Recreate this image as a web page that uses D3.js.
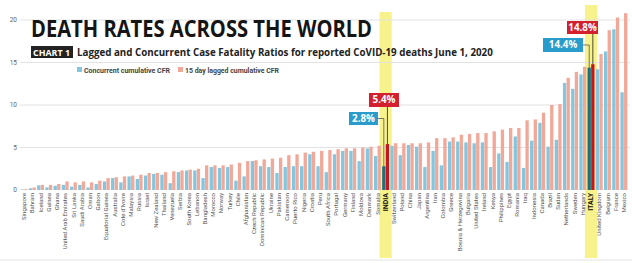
<!DOCTYPE html>
<html>
<head>
<meta charset="utf-8">
<script src="https://cdn.jsdelivr.net/npm/d3@7"></script>
<style>
  body { margin: 0; background: #fff; }
  svg { display: block; }
</style>
</head>
<body>
<div id="chart-container"></div>
<script>
// Countries, sorted by lagged CFR
const countries = [
  'Singapore', 'Bahrain', 'Iceland', 'Guinea', 'Ghana', 'United Arab Emirates', 'Sri Lanka',
  'Saudi Arabia', 'Oman', 'Gabon', 'Equatorial Guinea', 'Australia', "Cote d'Ivoire", 'Malaysia',
  'Russia', 'Israel', 'New Zealand', 'Thailand', 'Venezuela', 'Serbia', 'South Korea', 'Lebanon',
  'Bangladesh', 'Morocco', 'Norway', 'Turkey', 'Chile', 'Afghanistan', 'Czech Republic',
  'Dominican Republic', 'Ukraine', 'Pakistan', 'Cameroon', 'Puerto Rico', 'Nigeria', 'Croatia',
  'Peru', 'South Africa', 'Portugal', 'Germany', 'Finland', 'Moldova', 'Denmark', 'Somalia',
  'INDIA', 'Switzerland', 'Poland', 'China', 'Japan', 'Argentina', 'Iran', 'Colombia', 'Greece',
  'Bosnia & Herzegovina', 'Bulgaria', 'United States', 'Ireland', 'Kenya', 'Philippines', 'Egypt',
  'Romania', 'Iraq', 'Indonesia', 'Canada', 'Brazil', 'Sudan', 'Netherlands', 'Sweden', 'Hungary',
  'ITALY', 'United Kingdom', 'Belgium', 'France', 'Mexico'
];

// Concurrent cumulative CFR (%)
const concurrentCFR = [
  0.07, 0.2, 0.55, 0.3, 0.5, 0.6, 0.4, 0.6, 0.3, 0.7, 1.0, 1.4, 0.9, 1.6,
  1.3, 1.7, 1.9, 1.8, 0.8, 2.1, 2.3, 2.3, 1.4, 2.7, 2.6, 2.7, 1.1, 1.6, 3.4,
  2.8, 2.7, 2.0, 2.7, 2.8, 2.8, 4.2, 2.8, 2.1, 4.2, 4.6, 4.6, 3.4, 4.9, 4.0,
  2.8, 5.2, 4.1, 5.3, 5.1, 2.7, 4.6, 2.9, 5.7, 5.7, 5.6, 5.5, 5.6, 2.7, 4.3, 3.3,
  6.3, 2.6, 5.8, 7.9, 5.1, 5.9, 12.6, 11.9, 13.6, 14.4, 14.2, 16.3, 18.9, 11.5
];

// 15 day lagged cumulative CFR (%)
const laggedCFR = [
  0.1, 0.3, 0.6, 0.6, 0.7, 1.0, 0.9, 1.0, 0.9, 1.1, 1.4, 1.5, 1.6, 1.7,
  1.8, 2.0, 2.0, 2.1, 2.2, 2.3, 2.4, 2.5, 2.9, 2.9, 2.9, 3.0, 3.2, 3.4, 3.5,
  3.6, 3.7, 3.8, 4.1, 4.2, 4.4, 4.5, 4.6, 4.7, 4.8, 4.9, 4.9, 5.0, 5.1, 5.2,
  5.4, 5.5, 5.5, 5.5, 5.5, 5.6, 6.1, 6.1, 6.2, 6.5, 6.6, 6.7, 6.7, 6.9, 7.1, 7.3,
  7.3, 8.2, 8.3, 9.1, 10.0, 10.1, 13.2, 13.9, 14.5, 14.8, 16.0, 18.8, 20.3, 20.8
];

const yTicks = [0, 5, 10, 15, 20];
const seriesNames = ['Concurrent cumulative CFR', '15 day lagged cumulative CFR'];
const highlighted = ['INDIA', 'ITALY'];

const width = 632;
const height = 263;

const colors = { concurrent: '#84c6de', lagged: '#f2a898', concurrentHi: '#1f6e7a', laggedHi: '#c8141f' };

const svg = d3.select('#chart-container')
  .append('svg')
  .attr('width', width)
  .attr('height', height)
  .style('font-family', 'Roboto, sans-serif');

// Scales
const x = d3.scaleBand()
  .domain(countries)
  .range([20, 628]);

const xSub = d3.scaleBand()
  .domain(['concurrent', 'lagged'])
  .range([0, x.bandwidth()])
  .paddingInner(0.08)
  .paddingOuter(0.18);

const y = d3.scaleLinear()
  .domain([0, 20])
  .range([190, 20]);

// Yellow highlight columns behind India and Italy
const hlTop = { INDIA: 12, ITALY: 5 };
svg.selectAll('.highlight')
  .data(highlighted)
  .enter()
  .append('rect')
  .attr('class', 'highlight')
  .attr('x', d => x(d) - 2)
  .attr('width', x.bandwidth() + 4)
  .attr('y', d => hlTop[d])
  .attr('height', d => 258 - hlTop[d])
  .attr('fill', '#f8f28c');

// Gridlines + y tick labels
svg.append('g')
  .selectAll('line')
  .data(yTicks.slice(1))
  .enter()
  .append('line')
  .attr('x1', 20)
  .attr('x2', 630)
  .attr('y1', d => y(d))
  .attr('y2', d => y(d))
  .attr('stroke', '#e2e2e2')
  .attr('stroke-width', 1);

svg.append('g')
  .selectAll('text')
  .data(yTicks)
  .enter()
  .append('text')
  .attr('x', 17)
  .attr('y', d => y(d) + 2)
  .attr('text-anchor', 'end')
  .attr('font-size', 6.5)
  .attr('fill', '#666')
  .text(d => d);

// Bars
const rows = countries.map((c, i) => ({ country: c, concurrent: concurrentCFR[i], lagged: laggedCFR[i] }));

const groups = svg.selectAll('.bar')
  .data(rows)
  .enter()
  .append('g')
  .attr('class', 'bar')
  .attr('transform', d => `translate(${x(d.country)},0)`);

groups.selectAll('rect')
  .data(d => ['concurrent', 'lagged'].map(k => ({ key: k, value: d[k], hi: highlighted.includes(d.country) })))
  .enter()
  .append('rect')
  .attr('x', d => xSub(d.key))
  .attr('width', xSub.bandwidth())
  .attr('y', d => y(d.value))
  .attr('height', d => y(0) - y(d.value))
  .attr('fill', d => d.hi ? colors[d.key + 'Hi'] : colors[d.key]);

// x labels
svg.append('g')
  .selectAll('text')
  .data(countries)
  .enter()
  .append('text')
  .attr('transform', d => `translate(${x(d) + x.bandwidth() / 2},193) rotate(-90)`)
  .attr('dy', '0.35em')
  .attr('text-anchor', 'end')
  .attr('font-size', d => highlighted.includes(d) ? 7 : 6)
  .attr('font-weight', d => highlighted.includes(d) ? 'bold' : 'normal')
  .attr('fill', d => highlighted.includes(d) ? '#111' : '#555')
  .text(d => d);

// bottom rule
svg.append('line')
  .attr('x1', 0).attr('x2', width)
  .attr('y1', 260).attr('y2', 260)
  .attr('stroke', '#e4e4e4');

// Title block
svg.append('text')
  .attr('x', 31)
  .attr('y', 37)
  .attr('font-family', 'Open Sans, sans-serif')
  .attr('font-weight', 'bold')
  .attr('font-size', 22.5)
  .attr('fill', '#151515')
  .attr('textLength', 341)
  .attr('lengthAdjust', 'spacingAndGlyphs')
  .text('DEATH RATES ACROSS THE WORLD');

svg.append('rect')
  .attr('x', 31).attr('y', 46)
  .attr('width', 42).attr('height', 12)
  .attr('fill', '#222');

svg.append('text')
  .attr('x', 33)
  .attr('y', 55.5)
  .attr('font-family', 'Open Sans, sans-serif')
  .attr('font-weight', 'bold')
  .attr('font-size', 9)
  .attr('fill', '#fff')
  .attr('textLength', 37)
  .attr('lengthAdjust', 'spacingAndGlyphs')
  .text('CHART 1');

// subtitle: shrink font so it fits the same width as the reference
const subtitle = svg.append('text')
  .attr('x', 77)
  .attr('y', 56)
  .attr('font-family', "'Liberation Sans Narrow', 'Open Sans', sans-serif")
  .attr('font-weight', 'bold')
  .attr('font-size', 11.5)
  .attr('fill', '#222')
  .text('Lagged and Concurrent Case Fatality Ratios for reported CoVID-19 deaths June 1, 2020');
const subLen = subtitle.node().getComputedTextLength();
if (subLen > 416) subtitle.attr('font-size', 11.5 * 416 / subLen);

// Legend
const legendPos = [{ x: 77, w: 86 }, { x: 178, w: 94 }];
const legend = svg.selectAll('.legend-item')
  .data(seriesNames)
  .enter()
  .append('g')
  .attr('class', 'legend-item')
  .attr('transform', (d, i) => `translate(${legendPos[i].x},67)`);

legend.append('rect')
  .attr('width', 5)
  .attr('height', 5)
  .attr('fill', (d, i) => i === 0 ? colors.concurrent : colors.lagged);

legend.append('text')
  .attr('x', 7)
  .attr('y', 5.5)
  .attr('font-size', 7)
  .attr('font-weight', 'bold')
  .attr('fill', '#444')
  .attr('textLength', (d, i) => legendPos[i].w)
  .attr('lengthAdjust', 'spacingAndGlyphs')
  .text(d => d);

// Callouts for India and Italy
const callouts = [
  { country: 'INDIA', key: 'concurrent', box: [349, 112, 29, 13], fill: '#2a9ccb' },
  { country: 'INDIA', key: 'lagged', box: [369, 93, 30, 14], fill: '#d4202e' },
  { country: 'ITALY', key: 'concurrent', box: [543, 38, 40, 14], fill: '#2a9ccb' },
  { country: 'ITALY', key: 'lagged', box: [567, 21, 31, 13], fill: '#d4202e' }
];

callouts.forEach(c => {
  const i = countries.indexOf(c.country);
  const v = c.key === 'concurrent' ? concurrentCFR[i] : laggedCFR[i];
  const bx = x(c.country) + xSub(c.key) + xSub.bandwidth() / 2;
  const [rx, ry, rw, rh] = c.box;
  let path;
  if (c.key === 'concurrent') {
    path = `M${rx + rw},${ry + rh / 2}H${bx}V${y(v)}`;
  } else {
    path = `M${bx},${ry + rh}V${y(v)}`;
  }
  svg.append('path')
    .attr('d', path)
    .attr('fill', 'none')
    .attr('stroke', c.key === 'concurrent' ? '#555' : '#222')
    .attr('stroke-width', 0.8);
  svg.append('rect')
    .attr('x', rx).attr('y', ry)
    .attr('width', rw).attr('height', rh)
    .attr('fill', c.fill);
  svg.append('text')
    .attr('x', rx + rw / 2)
    .attr('y', ry + rh / 2 + 3.4)
    .attr('text-anchor', 'middle')
    .attr('font-family', 'Open Sans, sans-serif')
    .attr('font-weight', 'bold')
    .attr('font-size', 9.8)
    .attr('fill', '#fff')
    .text(d3.format('.1f')(v) + '%');
});
</script>
</body>
</html>
